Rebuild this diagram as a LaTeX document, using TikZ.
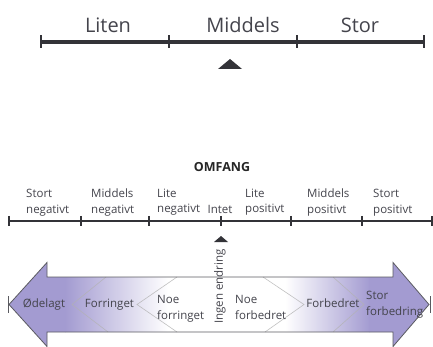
\documentclass[tikz,border=0pt]{standalone}
\usepackage{fontspec}
\setmainfont{Open Sans}
\usetikzlibrary{calc}
\definecolor{txt}{HTML}{44444C}
\definecolor{lav}{HTML}{A39BD1}
\definecolor{edge}{HTML}{5A5A60}
\definecolor{scl}{HTML}{333338}
\tikzset{
  toplab/.style={font=\fontsize{20}{24}\selectfont, text=txt, anchor=base, inner sep=0pt},
  lab/.style={font=\fontsize{11.5}{15.5}\selectfont, text=txt, inner sep=0pt, align=left, anchor=base west},
  clab/.style={font=\fontsize{11.5}{16}\selectfont, text=txt, inner sep=0pt, anchor=base},
  bigscale/.style={line width=3.2pt, draw=scl},
  smallscale/.style={line width=1.2pt, draw=scl},
  chev/.style={draw=gray!60, line width=0.6pt, opacity=0.8},
}
\begin{document}
\begin{tikzpicture}[x=1pt,y=-1pt]
\useasboundingbox (0,0) rectangle (433,347);
% ---------- top scale ----------
\coordinate (t0) at (41,42);
\coordinate (t1) at (169,42);
\coordinate (t2) at (297,42);
\coordinate (t3) at (424,42);
\draw[bigscale] (t0) -- (t3);
\foreach \p in {t0,t1,t2,t3}{
  \draw[line width=2.6pt, draw=scl] ($(\p)+(0,-6.5)$) -- ($(\p)+(0,6.5)$);
}
\node[toplab] (liten) at (108,33) {Liten};
\node[toplab] (middels) at (243,33) {Middels};
\node[toplab] (stor) at (360,33) {Stor};
\fill[scl] (230,59) -- (242,69) -- (218,69) -- cycle;
% ---------- OMFANG ----------
\node[font=\bfseries\fontsize{12.5}{15}\selectfont, text=black!85, anchor=base, inner sep=0pt] (omfang) at (222,172) {OMFANG};
\coordinate (s0) at (9,221);
\coordinate (s6) at (432,221);
\draw[smallscale] (s0) -- (s6);
\foreach \x in {9,81,149,221,291,362,432}{
  \draw[line width=1.1pt, draw=scl] (\x,216) -- (\x,226);
}
\node[lab] (sneg) at (26,213.5) {Stort\\negativt};
\node[lab] (mneg) at (91,213.5) {Middels\\negativt};
\node[lab] (lneg) at (157,212.5) {Lite\\negativt};
\node[clab] (intet) at (220,213.5) {Intet};
\node[lab] (lpos) at (245,212.5) {Lite\\positivt};
\node[lab] (mpos) at (307,213.5) {Middels\\positivt};
\node[lab] (spos) at (373,213.5) {Stort\\positivt};
\fill[scl] (221,236) -- (228,242) -- (214,242) -- cycle;
% ---------- big double arrow ----------
\def\arrowpath{(9,304.5) -- (47,262.5) -- (47,277) -- (393,277) -- (393,262.5) -- (429,304.5) -- (393,346.5) -- (393,332) -- (47,332) -- (47,346.5) -- cycle}
\begin{scope}
  \clip \arrowpath;
  \fill[white] (0,250) rectangle (433,350);
  \fill[lav] (0,250) rectangle (66,350);
  \shade[left color=lav, right color=white] (65,250) rectangle (168,350);
  \shade[left color=white, right color=lav] (285,250) rectangle (370,350);
  \fill[lav] (369,250) rectangle (433,350);
\end{scope}
\draw[chev] (106,277) -- (72,304.5) -- (108,332);
\draw[chev] (177,277) -- (137,304.5) -- (177,332);
\draw[chev] (263,277) -- (304,304.5) -- (265,332);
\draw[chev] (333,277) -- (364,304.5) -- (333,332);
\draw[draw=edge, line width=0.8pt, line join=miter] \arrowpath;
\draw[draw=edge, line width=0.9pt] (8,296) -- (8,313);
\draw[draw=edge, line width=0.9pt] (430.5,296) -- (430.5,313);
\node[clab] (odelagt) at (44,307) {Ødelagt};
\node[clab] (forringet) at (109.5,307) {Forringet};
\node[lab] (noeforr) at (157,319) {Noe\\forringet};
\node[font=\fontsize{11.5}{16}\selectfont, text=txt, inner sep=0pt, rotate=90] (ingen) at (220,286.5) {Ingen endring};
\node[lab] (noeforb) at (235,319) {Noe\\forbedret};
\node[clab] (forbedret) at (333,307) {Forbedret};
\node[lab] (storforb) at (366,315) {Stor\\forbedring};
\end{tikzpicture}
\end{document}
